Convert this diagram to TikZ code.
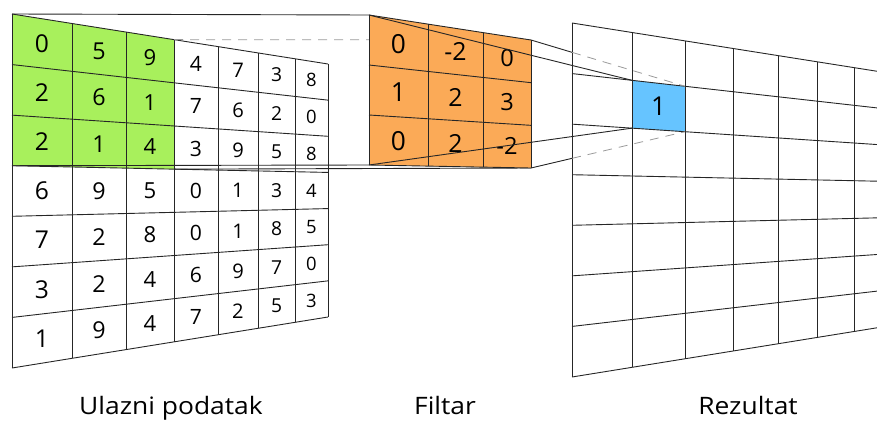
\documentclass[tikz,border=0pt]{standalone}
\usepackage{fontspec}
\setmainfont{Open Sans}
\usetikzlibrary{calc}

\definecolor{ingreen}{HTML}{A8F05C}
\definecolor{filtorange}{HTML}{FBAA57}
\definecolor{resblue}{HTML}{66C4FF}

\tikzset{
  gridline/.style={line width=0.9pt, draw=black!85},
  hiddenline/.style={line width=0.8pt, draw=black!40, dash pattern=on 9pt off 7pt},
  numtext/.style={inner sep=0pt, font=\fontsize{#1}{#1}\selectfont},
  caption/.style={anchor=base, inner sep=0pt, xscale=1.1, transform shape, font=\fontsize{24}{24}\selectfont}
}

% plane in perspective: left x, right x, top-left y, top-right y, bottom-left y, bottom-right y
\newcommand{\setplane}[6]{\def\pL{#1}\def\pR{#2}\def\pTL{#3}\def\pTR{#4}\def\pBL{#5}\def\pBR{#6}}
% y of the point at x #2 and depth #3 (0 = top edge, 1 = bottom edge)
\newcommand{\planey}[3]{\pgfmathsetmacro#1{(1-((#2)-\pL)/(\pR-\pL))*(\pTL+(#3)*(\pBL-\pTL))+((#2)-\pL)/(\pR-\pL)*(\pTR+(#3)*(\pBR-\pTR))}}

\def\incols{{12,72,126,174,218,258,295,328}}
\def\filtcols{{369,428,483,531}}
\def\rescols{{572,632,685,733,778,817,854,888}}

\begin{document}
\begin{tikzpicture}[x=1pt, y=-1pt]
\useasboundingbox (0,0) rectangle (877,421);

% ulazni podatak
\setplane{12}{328}{14}{64}{368}{317}
\planey{\ya}{12}{0}\planey{\yb}{174}{0}\planey{\yc}{174}{3/7}\planey{\yd}{12}{3/7}
\coordinate (in-tl) at (12,\ya);
\coordinate (in-tr) at (174,\yb);
\coordinate (in-br) at (174,\yc);
\coordinate (in-bl) at (12,\yd);
\fill[ingreen] (in-tl) -- (in-tr) -- (in-br) -- (in-bl) -- cycle;
\foreach \r in {0,...,7}{
  \planey{\ya}{\pL}{\r/7}\planey{\yb}{\pR}{\r/7}
  \draw[gridline] (\pL,\ya) -- (\pR,\yb);
}
\foreach \x in {12,72,126,174,218,258,295,328}{
  \planey{\ya}{\x}{0}\planey{\yb}{\x}{1}
  \draw[gridline] (\x,\ya) -- (\x,\yb);
}
\foreach \vals [count=\r from 0] in {{0,5,9,4,7,3,8},{2,6,1,7,6,2,0},{2,1,4,3,9,5,8},
    {6,9,5,0,1,3,4},{7,2,8,0,1,8,5},{3,2,4,6,9,7,0},{1,9,4,7,2,5,3}}{
  \foreach \v [count=\c from 0] in \vals {
    \pgfmathsetmacro\xa{\incols[\c]}
    \pgfmathsetmacro\xb{\incols[\c+1]}
    \pgfmathsetmacro\xm{(\xa+\xb)/2}
    \planey{\ym}{\xm}{(\r+0.5)/7}\planey{\yt}{\xm}{\r/7}\planey{\yu}{\xm}{(\r+1)/7}
    \pgfmathsetmacro\fs{0.5*(\yu-\yt)}
    \node[numtext=\fs] (in-\r-\c) at (\xm,\ym) {\v};
  }
}

% filtar
\setplane{369}{531}{15}{40}{165}{168}
\coordinate (fi-tl) at (369,15);
\coordinate (fi-tr) at (531,40);
\coordinate (fi-br) at (531,168);
\coordinate (fi-bl) at (369,165);
\draw[gridline] (in-tl) -- (fi-tl);
\draw[hiddenline] (in-tr) -- (fi-tr);
\draw[gridline] (in-bl) -- (fi-bl);
\draw[gridline] (in-br) -- (fi-br);
\fill[filtorange] (fi-tl) -- (fi-tr) -- (fi-br) -- (fi-bl) -- cycle;
\foreach \r in {0,...,3}{
  \planey{\ya}{\pL}{\r/3}\planey{\yb}{\pR}{\r/3}
  \draw[gridline] (\pL,\ya) -- (\pR,\yb);
}
\foreach \x in {369,428,483,531}{
  \planey{\ya}{\x}{0}\planey{\yb}{\x}{1}
  \draw[gridline] (\x,\ya) -- (\x,\yb);
}
\foreach \vals [count=\r from 0] in {{0,-2,0},{1,2,3},{0,2,-2}}{
  \foreach \v [count=\c from 0] in \vals {
    \pgfmathsetmacro\xa{\filtcols[\c]}
    \pgfmathsetmacro\xb{\filtcols[\c+1]}
    \pgfmathsetmacro\xm{(\xa+\xb)/2}
    \planey{\ym}{\xm}{(\r+0.5)/3}\planey{\yt}{\xm}{\r/3}\planey{\yu}{\xm}{(\r+1)/3}
    \pgfmathsetmacro\fs{0.54*(\yu-\yt)}
    \node[numtext=\fs] (fi-\r-\c) at (\xm,\ym) {\v};
  }
}

% rezultat
\setplane{572}{888}{23}{73}{377}{326}
\begin{scope}
\clip (0,0) rectangle (877,421);
\planey{\ya}{632}{1/7}\planey{\yb}{685}{1/7}\planey{\yc}{685}{2/7}\planey{\yd}{632}{2/7}
\coordinate (re-tl) at (632,\ya);
\coordinate (re-tr) at (685,\yb);
\coordinate (re-br) at (685,\yc);
\coordinate (re-bl) at (632,\yd);
\fill[resblue] (re-tl) -- (re-tr) -- (re-br) -- (re-bl) -- cycle;
\foreach \r in {0,...,7}{
  \planey{\ya}{\pL}{\r/7}\planey{\yb}{\pR}{\r/7}
  \draw[gridline] (\pL,\ya) -- (\pR,\yb);
}
\foreach \x in {572,632,685,733,778,817,854}{
  \planey{\ya}{\x}{0}\planey{\yb}{\x}{1}
  \draw[gridline] (\x,\ya) -- (\x,\yb);
}
\end{scope}
\node[numtext=26] (re-1-1) at ($(re-tl)!0.5!(re-br)$) {1};

% projekcija filtra na rezultat
\coordinate (cut-t) at ($(fi-tr)!{(572-531)/(685-531)}!(re-tr)$);
\coordinate (cut-b) at ($(fi-br)!{(572-531)/(685-531)}!(re-br)$);
\draw[gridline] (fi-tl) -- (re-tl);
\draw[gridline] (fi-bl) -- (re-bl);
\draw[gridline] (fi-tr) -- (cut-t);
\draw[hiddenline] (cut-t) -- (re-tr);
\draw[gridline] (fi-br) -- (cut-b);
\draw[hiddenline] (cut-b) -- (re-br);

% natpisi
\node[caption] (lab-in) at (171,414) {Ulazni podatak};
\node[caption] (lab-fi) at (445,414) {Filtar};
\node[caption] (lab-re) at (748,414) {Rezultat};
\end{tikzpicture}
\end{document}
